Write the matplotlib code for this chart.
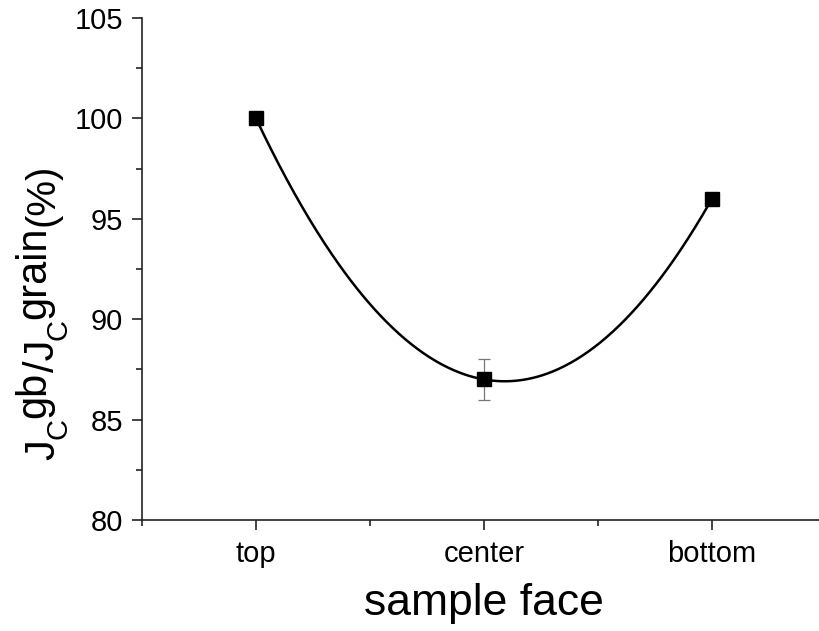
import numpy as np
import matplotlib
matplotlib.use("Agg")
import matplotlib.pyplot as plt
from matplotlib.ticker import MultipleLocator, FixedLocator
from matplotlib.transforms import IdentityTransform

plt.rcParams['font.family'] = ['Liberation Sans', 'DejaVu Sans']

categories = ["top", "center", "bottom"]
values = [100, 87, 96]
errors = [0, 1, 0]

W, H = 820, 631
fig = plt.figure(figsize=(W/100, H/100), dpi=100)
ax = fig.add_axes([142/W, 1 - 520/H, (826 - 142)/W, (520 - 18)/H])

x = np.arange(len(categories))
# smooth curve through the data points (spline through the three points)
coef = np.polyfit(x, values, 2)
xs = np.linspace(x[0], x[-1], 300)
ax.plot(xs, np.polyval(coef, xs), color='black', lw=1.8, zorder=2)

ax.errorbar(x[1:2], values[1:2], yerr=errors[1:2], fmt='none', ecolor='#777777',
            elinewidth=0.9, capsize=4.5, capthick=0.9, zorder=3)
ax.plot(x, values, 's', color='black', ms=10, zorder=4)

ax.set_xlim(-0.5, 2.5)
ax.set_ylim(80, 105)
ax.set_xticks(x)
ax.set_xticklabels(categories)
ax.xaxis.set_minor_locator(FixedLocator([-0.5, 0.5, 1.5, 2.5]))
ax.yaxis.set_major_locator(MultipleLocator(5))
ax.yaxis.set_minor_locator(MultipleLocator(2.5))

for s in ['top', 'right']:
    ax.spines[s].set_visible(False)
for s in ['left', 'bottom']:
    ax.spines[s].set_linewidth(1.2)
    ax.spines[s].set_color('#222222')

ax.tick_params(axis='both', which='major', direction='out', length=7.5, width=1.2,
               color='#222222', labelsize=21, pad=6)
ax.tick_params(axis='both', which='minor', direction='out', length=4.5, width=1.2,
               color='#222222')
ax.tick_params(axis='x', which='major', pad=7)

ax.set_xlabel('sample face', fontsize=32, labelpad=11)

# y label built from pieces: (text, size pt, baseline offset px; +ve = raised)
label_pieces = [("J", 30, 0), ("C", 21, -12), ("gb", 30, 9),
                ("/J", 30, 0), ("C", 21, -12), ("grain", 30, 9), ("(%)", 29, 0)]
renderer = fig.canvas.get_renderer()
base_x = 54
ypos = H - 460
for txt, size, off in label_pieces:
    t = fig.text(base_x - off, ypos, txt, fontsize=size, rotation=90,
                 rotation_mode='anchor', ha='left', va='baseline',
                 transform=IdentityTransform())
    bb = t.get_window_extent(renderer)
    ypos += bb.height

fig.savefig('out.png', dpi=100)
